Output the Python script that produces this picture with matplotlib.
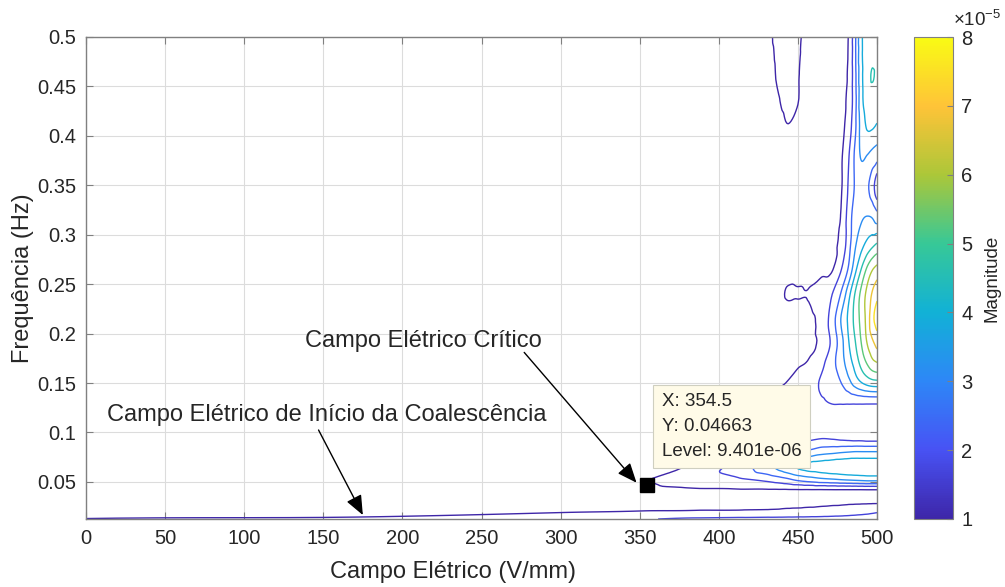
import numpy as np
import matplotlib
matplotlib.use('Agg')
import matplotlib.pyplot as plt
import matplotlib.tri as mtri
from matplotlib.colors import LinearSegmentedColormap, Normalize
from matplotlib.cm import ScalarMappable

plt.rcParams['font.family'] = ['Liberation Sans', 'DejaVu Sans']
plt.rcParams['mathtext.fontset'] = 'custom'
plt.rcParams['mathtext.rm'] = 'Liberation Sans'

# ---------------- data (magnitude in units of 1e-5) ----------------
campo = [0, 170, 300, 350, 380, 410, 430, 437, 443, 450, 457, 465, 472, 478, 482, 486, 490, 494, 497, 500]
freq = [0.0125, 0.02, 0.03, 0.042, 0.052, 0.065, 0.08, 0.095, 0.11, 0.13, 0.15, 0.17, 0.19,
        0.215, 0.24, 0.265, 0.29, 0.32, 0.35, 0.38, 0.41, 0.435, 0.46, 0.48, 0.5]
magnitude = [
    [0.97, 1.02, 1.25, 1.60, 1.78, 1.85, 1.88, 1.88, 1.89, 1.90, 1.91, 1.92, 1.94, 1.95, 1.96, 1.97, 1.98, 1.99, 2.00, 2.00],
    [0.50, 0.72, 0.90, 0.97, 1.00, 1.02, 1.05, 1.07, 1.10, 1.12, 1.15, 1.20, 1.25, 1.30, 1.35, 1.40, 1.45, 1.50, 1.55, 1.60],
    [0.35, 0.45, 0.60, 0.70, 0.75, 0.80, 0.80, 0.80, 0.82, 0.82, 0.83, 0.83, 0.84, 0.84, 0.85, 0.85, 0.85, 0.85, 0.85, 0.85],
    [0.30, 0.35, 0.50, 0.80, 0.88, 0.90, 0.90, 0.90, 0.90, 0.91, 0.91, 0.91, 0.92, 0.92, 0.92, 0.92, 0.92, 0.93, 0.93, 0.93],
    [0.35, 0.40, 0.55, 0.88, 1.20, 1.50, 1.80, 2.00, 2.20, 2.50, 2.70, 2.90, 3.00, 3.10, 3.15, 3.20, 3.25, 3.30, 3.30, 3.30],
    [0.35, 0.40, 0.50, 0.70, 0.98, 1.90, 2.80, 3.20, 3.50, 3.90, 4.10, 4.20, 4.30, 4.35, 4.40, 4.40, 4.40, 4.40, 4.40, 4.40],
    [0.35, 0.40, 0.45, 0.60, 0.90, 1.10, 1.40, 1.60, 1.90, 2.30, 2.60, 2.90, 3.00, 3.10, 3.15, 3.20, 3.20, 3.20, 3.20, 3.20],
    [0.40, 0.40, 0.45, 0.55, 0.80, 1.00, 1.20, 1.30, 1.40, 1.45, 1.50, 1.60, 1.55, 1.45, 1.40, 1.35, 1.35, 1.30, 1.30, 1.30],
    [0.40, 0.40, 0.45, 0.50, 0.70, 0.90, 1.10, 1.20, 1.25, 1.30, 1.35, 1.35, 1.30, 1.25, 1.20, 1.20, 1.20, 1.20, 1.20, 1.20],
    [0.35, 0.35, 0.40, 0.45, 0.60, 0.80, 0.95, 1.05, 1.15, 1.30, 1.45, 1.60, 1.70, 1.72, 1.73, 1.74, 1.75, 1.75, 1.75, 1.75],
    [0.30, 0.30, 0.35, 0.45, 0.50, 0.70, 0.85, 0.90, 0.95, 1.10, 1.40, 1.75, 2.00, 2.45, 2.90, 3.40, 3.80, 4.10, 4.25, 4.30],
    [0.30, 0.30, 0.35, 0.40, 0.50, 0.60, 0.75, 0.80, 0.85, 0.90, 1.00, 1.50, 2.20, 2.90, 3.50, 4.10, 4.80, 5.40, 5.80, 6.00],
    [0.30, 0.30, 0.35, 0.40, 0.45, 0.55, 0.70, 0.75, 0.80, 0.82, 0.85, 1.10, 1.90, 3.00, 3.80, 4.50, 5.30, 6.10, 6.60, 7.00],
    [0.35, 0.30, 0.35, 0.40, 0.45, 0.55, 0.65, 0.70, 0.75, 0.80, 0.85, 1.15, 2.10, 3.30, 4.00, 4.79, 5.55, 6.38, 7.30, 7.80],
    [0.35, 0.30, 0.35, 0.40, 0.45, 0.55, 0.70, 0.80, 0.97, 0.96, 0.96, 1.20, 1.70, 2.60, 3.60, 4.60, 5.50, 6.30, 6.85, 7.30],
    [0.35, 0.30, 0.35, 0.40, 0.45, 0.55, 0.65, 0.70, 0.80, 0.82, 0.84, 0.85, 0.92, 1.75, 2.50, 3.60, 4.60, 5.50, 6.00, 6.30],
    [0.35, 0.30, 0.35, 0.40, 0.45, 0.55, 0.65, 0.70, 0.72, 0.75, 0.78, 0.80, 0.85, 1.20, 2.10, 3.00, 3.60, 4.10, 4.40, 4.70],
    [0.35, 0.30, 0.35, 0.40, 0.45, 0.55, 0.65, 0.70, 0.72, 0.74, 0.76, 0.78, 0.82, 1.05, 2.00, 2.70, 3.00, 3.10, 3.00, 2.60],
    [0.35, 0.30, 0.35, 0.40, 0.45, 0.55, 0.65, 0.70, 0.73, 0.74, 0.75, 0.76, 0.80, 0.95, 1.75, 2.45, 2.75, 2.50, 2.00, 1.20],
    [0.35, 0.30, 0.35, 0.40, 0.45, 0.55, 0.68, 0.75, 0.80, 0.76, 0.72, 0.72, 0.75, 0.93, 1.60, 2.50, 3.20, 3.10, 2.90, 2.70],
    [0.35, 0.30, 0.35, 0.40, 0.45, 0.60, 0.72, 0.80, 0.93, 0.85, 0.75, 0.70, 0.72, 0.80, 1.30, 2.20, 3.40, 3.95, 3.95, 3.80],
    [0.35, 0.30, 0.35, 0.40, 0.45, 0.60, 0.74, 0.90, 1.02, 0.95, 0.70, 0.70, 0.72, 0.78, 1.15, 2.10, 3.60, 4.20, 4.20, 4.10],
    [0.35, 0.30, 0.35, 0.40, 0.45, 0.60, 0.75, 0.97, 1.07, 0.96, 0.75, 0.70, 0.72, 0.80, 1.05, 2.15, 3.65, 4.30, 4.65, 4.40],
    [0.35, 0.30, 0.35, 0.40, 0.45, 0.60, 0.77, 1.00, 1.10, 0.98, 0.77, 0.70, 0.72, 0.80, 1.00, 2.20, 3.70, 4.20, 4.45, 4.35],
    [0.35, 0.30, 0.35, 0.40, 0.45, 0.60, 0.80, 1.05, 1.15, 1.00, 0.80, 0.70, 0.75, 0.80, 0.97, 2.20, 3.70, 4.20, 4.30, 4.30],
]
contour_levels = [0.9401, 1.67, 2.40, 3.13, 3.86, 4.59, 5.32, 6.05, 6.78, 7.51]

x_ticks = [0, 50, 100, 150, 200, 250, 300, 350, 400, 450, 500]
y_ticks = [0.05, 0.1, 0.15, 0.2, 0.25, 0.3, 0.35, 0.4, 0.45, 0.5]
y_tick_labels = ['0.05', '0.1', '0.15', '0.2', '0.25', '0.3', '0.35', '0.4', '0.45', '0.5']
cbar_ticks = [1, 2, 3, 4, 5, 6, 7, 8]

tip_x, tip_y, tip_level = 354.5, 0.04663, 9.401e-06

# ---------------- style ----------------
parula = LinearSegmentedColormap.from_list('parula', [
    (0.2422, 0.1504, 0.6603), (0.2810, 0.3228, 0.9579), (0.1786, 0.5289, 0.9682),
    (0.0689, 0.6948, 0.8394), (0.2161, 0.7843, 0.5923), (0.6720, 0.7793, 0.2227),
    (0.9970, 0.7659, 0.2199), (0.9769, 0.9839, 0.0805)])
norm = Normalize(vmin=1e-5, vmax=8e-5)
txt_col = '#262626'
axis_col = '#808080'

W, H = 1005, 587
fig = plt.figure(figsize=(W / 100, H / 100), dpi=100)
ax = fig.add_axes([86 / W, (H - 519) / H, 791 / W, 482 / H])

# contour of the table, smoothed by matplotlib's own triangulation refiner
Z = np.array(magnitude) * 1e-5
X, Y = np.meshgrid(campo, freq)
ny, nx = Z.shape
sx, sy = max(campo), max(freq)
tris = []
for j in range(ny - 1):
    for i in range(nx - 1):
        a = j * nx + i
        tris.append([a, a + 1, a + nx + 1])
        tris.append([a, a + nx + 1, a + nx])
tri = mtri.Triangulation(X.ravel() / sx, Y.ravel() / sy, tris)
interp = mtri.CubicTriInterpolator(tri, Z.ravel(), kind='geom')
tri_r, z_r = mtri.UniformTriRefiner(tri).refine_field(Z.ravel(), interp, subdiv=3)
tri_plot = mtri.Triangulation(tri_r.x * sx, tri_r.y * sy, tri_r.triangles)
ax.tricontour(tri_plot, z_r, levels=np.array(contour_levels) * 1e-5,
              cmap=parula, norm=norm, linewidths=1.0, zorder=2)

ax.set_xlim(0, 500)
ax.set_ylim(0.0125, 0.5)
ax.set_xticks(x_ticks)
ax.set_yticks(y_ticks)
ax.set_yticklabels(y_tick_labels)
ax.grid(True, color='#dcdcdc', linewidth=0.8, zorder=0)
ax.set_axisbelow(True)
ax.tick_params(direction='in', top=True, right=True, length=5, width=0.8,
               color=axis_col, labelsize=14.5, labelcolor=txt_col, pad=7)
for s in ax.spines.values():
    s.set_color(axis_col)
    s.set_linewidth(1.0)
ax.set_xlabel('Campo Elétrico (V/mm)', fontsize=17, color=txt_col)
ax.xaxis.set_label_coords(0.4646, -0.088)
ax.set_ylabel('Frequência (Hz)', fontsize=17, color=txt_col, labelpad=2)

# data tip
ax.plot([tip_x], [tip_y], marker='s', color='black', markersize=10, zorder=6, clip_on=False)
ax.text(364, 0.106, 'X: %s\nY: %s\nLevel: %s' % (tip_x, tip_y, '%.3e' % tip_level),
        fontsize=13.5, color=txt_col, va='center', ha='left', linespacing=1.6, zorder=5,
        bbox=dict(boxstyle='square,pad=0.45', fc='#fffbe8', ec='#cfcfc0', lw=0.8))

# annotations with arrows
arrow_kw = dict(arrowstyle='-|>,head_length=1.2,head_width=0.5', color='black',
                lw=1.0, shrinkA=0, shrinkB=0)
ax.annotate('', xy=(348, 0.0492), xytext=(277, 0.181), arrowprops=arrow_kw, zorder=7)
ax.text(213, 0.1925, 'Campo Elétrico Crítico', fontsize=17, color=txt_col,
        ha='center', va='center', zorder=7)
ax.annotate('', xy=(175, 0.0165), xytext=(147, 0.1025), arrowprops=arrow_kw, zorder=7)
ax.text(152, 0.118, 'Campo Elétrico de Início da Coalescência', fontsize=17, color=txt_col,
        ha='center', va='center', zorder=7)

# colorbar
cax = fig.add_axes([914 / W, (H - 519) / H, 39 / W, 482 / H])
sm = ScalarMappable(norm=Normalize(vmin=1, vmax=8), cmap=parula)
cb = fig.colorbar(sm, cax=cax, ticks=cbar_ticks)
cb.outline.set_edgecolor(axis_col)
cb.outline.set_linewidth(0.8)
cax.tick_params(direction='in', length=4, width=0.8, color=axis_col,
                labelsize=14.5, labelcolor=txt_col, pad=6)
cax.set_ylabel('Magnitude', fontsize=13.5, color=txt_col, labelpad=8)
fig.text(953 / W, 1 - 20 / H, r'$\mathregular{\times10^{-5}}$', fontsize=13.5,
         color=txt_col, ha='left', va='center')

fig.savefig('out.png', dpi=100)
